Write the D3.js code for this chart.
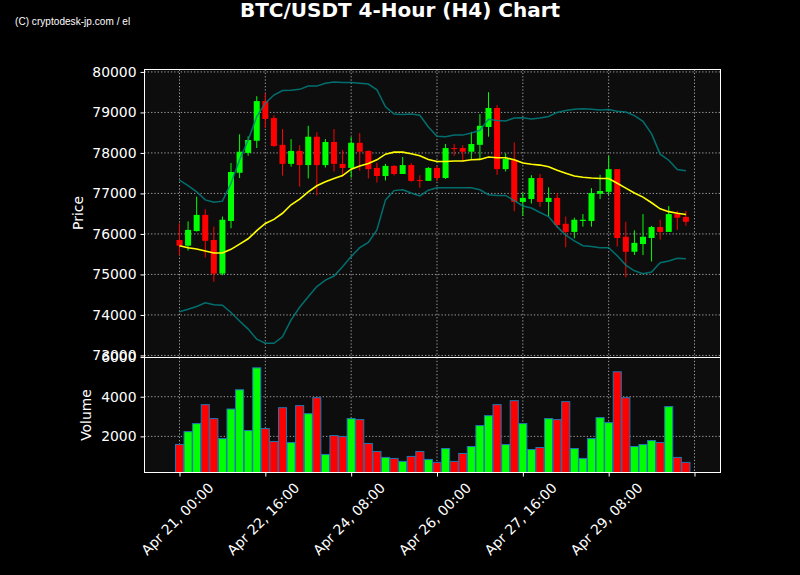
<!DOCTYPE html>
<html>
<head>
<meta charset="utf-8">
<script src="https://cdnjs.cloudflare.com/ajax/libs/d3/7.8.5/d3.min.js"></script>
<style>
  html, body { margin: 0; padding: 0; background: #000; }
  svg { display: block; }
  text { font-family: "DejaVu Sans", sans-serif; fill: #fff; }
  .tick text { font-size: 13.9px; }
</style>
</head>
<body>
<div id="chart"></div>
<script>
// OHLC, 4h candles
const opens = [75850,75710,76070,76470,75850,75020,76320,77510,78000,78300,79280,78860,78200,77730,78050,77700,78400,77700,78270,77730,77630,78250,78050,77630,77430,77680,77480,77700,77330,77310,77630,77380,78120,78120,78030,78200,78640,79110,77600,77830,76790,76860,77380,76790,76890,76250,76050,76320,76320,76990,77040,77600,75930,75560,75750,75900,76170,76050,76490,76420];
const highs = [76260,76310,76920,76610,76180,76430,77750,78460,78410,79400,79470,78930,78590,78340,78190,78670,78510,78340,78590,78070,78390,78490,78060,77760,77730,77700,77900,77750,77450,77650,77680,78220,78220,78190,78520,78960,79500,79180,77990,78260,77020,77450,77480,77150,77010,76430,76400,76490,77130,77460,77930,77600,76300,76090,76490,76200,76350,76690,76570,76570];
const lows = [75480,75590,76060,75420,74820,74980,76140,77380,77930,78120,78620,78150,77440,77660,77170,77370,76950,77640,77540,77410,77390,77560,77370,77270,77320,77440,77480,77290,77140,77310,77310,77360,77930,77780,77840,77850,78400,77460,77540,76560,76440,76750,76670,76430,76140,75670,75890,76180,76180,76860,76960,75690,74930,75480,75480,75320,75860,76050,76100,76200];
const closes = [75710,76100,76470,75830,75020,76350,77530,78030,78320,79280,78840,78170,77730,78050,77700,78400,77700,78270,77730,77630,78250,78030,77600,77430,77680,77480,77700,77310,77310,77630,77380,78120,78100,78030,78220,78670,79110,77600,77850,76790,76890,77380,76790,76890,76220,76050,76350,76350,77010,77060,77600,75900,75560,75780,75930,76170,76050,76490,76400,76300];
const volumes = [1590,2240,2645,3600,2895,1890,3380,4350,2295,5455,2395,1740,3445,1690,3550,3145,3950,1090,2040,1990,2895,2845,1640,1240,940,890,740,990,1240,840,690,1390,740,1140,1490,2545,3045,3600,1590,3800,2645,1340,1440,2895,2845,3750,1390,890,1890,2945,2695,5255,3950,1490,1590,1790,1690,3500,940,690];

// moving average and bands
const sma = [75710,75660,75630,75580,75530,75530,75620,75750,75880,76080,76260,76360,76510,76720,76860,77040,77190,77290,77370,77440,77600,77680,77740,77830,77970,78020,78020,77980,77930,77840,77790,77790,77800,77800,77830,77840,77900,77880,77880,77830,77750,77720,77700,77660,77570,77500,77430,77400,77380,77370,77370,77250,77130,77010,76910,76770,76620,76550,76510,76480];
const upperBand = [77330,77190,77040,76840,76780,76810,77250,77830,78320,78900,79230,79430,79540,79550,79570,79650,79650,79720,79750,79740,79740,79720,79700,79560,79140,78960,78950,78960,78930,78640,78410,78400,78440,78440,78490,78560,78830,78800,78790,78860,78870,78840,78860,78900,79000,79050,79080,79090,79080,79060,79070,79030,79010,78920,78780,78470,77970,77820,77590,77560];
const lowerBand = [74080,74140,74210,74300,74250,74240,74060,73850,73650,73400,73300,73300,73460,73880,74190,74450,74700,74860,74960,75190,75440,75660,75790,76100,76840,77070,77090,77010,76940,77080,77140,77140,77140,77140,77140,77090,76970,76950,76950,76820,76690,76640,76530,76430,76180,75970,75830,75710,75690,75660,75660,75460,75230,75090,75020,75060,75290,75330,75400,75390];

const xTicks = [0, 10, 20, 30, 40, 50, 60];
const xTickLabels = ["Apr 21, 00:00", "Apr 22, 16:00", "Apr 24, 08:00", "Apr 26, 00:00", "Apr 27, 16:00", "Apr 29, 08:00", ""];
const priceTicks = [73000, 74000, 75000, 76000, 77000, 78000, 79000, 80000];
const volumeTicks = [2000, 4000, 6000];

const width = 800, height = 575;
const left = 144.5, right = 720.5;
const priceTop = 69.5, priceBottom = 357.5;
const volumeTop = 357.5, volumeBottom = 472.5;
const UP = "#00ff00", DOWN = "#ff0000";

const svg = d3.select("#chart").append("svg")
  .attr("width", width)
  .attr("height", height);

svg.append("rect").attr("width", width).attr("height", height).attr("fill", "#000");

const x = d3.scaleLinear().domain([-4.078, 63.03]).range([left, right]);
const yPrice = d3.scaleLinear().domain([72949, 80060]).range([priceBottom, priceTop]);
const yVolume = d3.scaleLinear().domain([180, 5976]).range([volumeBottom, volumeTop]);
const step = x(1) - x(0);

function panel(top, bottom, y, ticks) {
  const g = svg.append("g");
  g.append("rect")
    .attr("x", left).attr("y", top)
    .attr("width", right - left).attr("height", bottom - top)
    .attr("fill", "#0d0d0d");

  // grid
  g.selectAll(".gx").data(xTicks).enter().append("line")
    .attr("x1", d => x(d)).attr("x2", d => x(d))
    .attr("y1", top).attr("y2", bottom)
    .attr("stroke", "#a0a0a0").attr("stroke-width", 1).attr("stroke-dasharray", "1.3 2");
  g.selectAll(".gy").data(ticks).enter().append("line")
    .attr("x1", left).attr("x2", right)
    .attr("y1", d => y(d)).attr("y2", d => y(d))
    .attr("stroke", "#a0a0a0").attr("stroke-width", 1).attr("stroke-dasharray", "1.3 2");
  return g;
}

function frame(top, bottom, y, ticks) {
  svg.append("rect")
    .attr("x", left).attr("y", top)
    .attr("width", right - left).attr("height", bottom - top)
    .attr("fill", "none").attr("stroke", "#fff").attr("stroke-width", 1);

  const yAxis = svg.append("g")
    .attr("transform", `translate(${left},0)`)
    .call(d3.axisLeft(y).tickValues(ticks).tickSize(4).tickPadding(4).tickFormat(d3.format("d")));
  yAxis.select(".domain").remove();
  yAxis.selectAll("line").attr("stroke", "#fff");
  yAxis.selectAll("text").attr("fill", "#fff");
}

// price panel
const pricePanel = panel(priceTop, priceBottom, yPrice, priceTicks);

const candles = pricePanel.selectAll(".candle").data(d3.range(opens.length)).enter().append("g");
candles.append("line")
  .attr("x1", i => x(i)).attr("x2", i => x(i))
  .attr("y1", i => yPrice(highs[i])).attr("y2", i => yPrice(lows[i]))
  .attr("stroke", i => closes[i] >= opens[i] ? UP : DOWN)
  .attr("stroke-width", 1);
candles.append("rect")
  .attr("x", i => x(i) - step * 0.35)
  .attr("width", step * 0.7)
  .attr("y", i => yPrice(Math.max(opens[i], closes[i])))
  .attr("height", i => Math.max(1, Math.abs(yPrice(opens[i]) - yPrice(closes[i]))))
  .attr("fill", i => closes[i] >= opens[i] ? UP : DOWN);

const line = d3.line().x((d, i) => x(i)).y(d => yPrice(d));
[upperBand, lowerBand].forEach(band => {
  pricePanel.append("path").datum(band)
    .attr("d", line)
    .attr("fill", "none").attr("stroke", "#008080").attr("stroke-opacity", 0.85).attr("stroke-width", 1.5);
});
pricePanel.append("path").datum(sma)
  .attr("d", line)
  .attr("fill", "none").attr("stroke", "#ffff00").attr("stroke-width", 1.6);

frame(priceTop, priceBottom, yPrice, priceTicks);

// volume panel
const volumePanel = panel(volumeTop, volumeBottom, yVolume, volumeTicks.slice(0, 2));
volumePanel.selectAll(".bar").data(d3.range(volumes.length)).enter().append("rect")
  .attr("x", i => x(i) - step * 0.47)
  .attr("width", step * 0.94)
  .attr("y", i => yVolume(volumes[i]))
  .attr("height", i => volumeBottom - yVolume(volumes[i]))
  .attr("fill", i => closes[i] >= opens[i] ? UP : DOWN)
  .attr("stroke", "#1f77b4").attr("stroke-width", 1);

frame(volumeTop, volumeBottom, yVolume, volumeTicks);

const xAxis = svg.append("g")
  .attr("transform", `translate(0,${volumeBottom})`)
  .call(d3.axisBottom(x).tickValues(xTicks).tickSize(4).tickFormat(d => xTickLabels[d / 10]));
xAxis.select(".domain").remove();
xAxis.selectAll("line").attr("stroke", "#fff");
xAxis.selectAll("text")
  .attr("fill", "#fff")
  .attr("text-anchor", "middle")
  .attr("dy", 0)
  .attr("y", 0)
  .attr("transform", "translate(-2,47) rotate(-45)")
  .attr("dominant-baseline", "middle");

// titles
svg.append("text")
  .attr("x", 400).attr("y", 17)
  .attr("text-anchor", "middle")
  .attr("font-size", 20)
  .attr("font-weight", "bold")
  .text("BTC/USDT 4-Hour (H4) Chart");

svg.append("text")
  .attr("x", 15).attr("y", 25)
  .attr("font-size", 10)
  .style("font-family", "'Liberation Sans', sans-serif")
  .attr("letter-spacing", 0.05)
  .text("(C) cryptodesk-jp.com / el");

svg.append("text")
  .attr("transform", "translate(83,213) rotate(-90)")
  .attr("text-anchor", "middle")
  .attr("font-size", 13.9)
  .text("Price");

svg.append("text")
  .attr("transform", "translate(91,415) rotate(-90)")
  .attr("text-anchor", "middle")
  .attr("font-size", 13.9)
  .text("Volume");
</script>
</body>
</html>
